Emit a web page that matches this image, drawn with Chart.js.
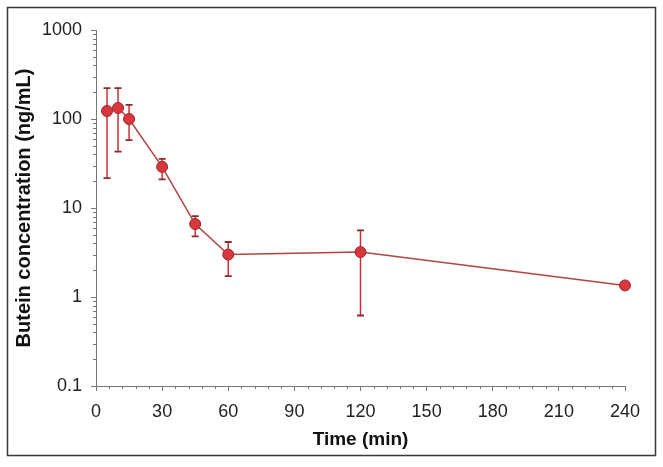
<!DOCTYPE html>
<html lang="en">
<head>
  <meta charset="UTF-8">
  <title>Butein concentration vs time</title>
  <script src="https://cdn.jsdelivr.net/npm/chart.js"></script>
  <style>
    html, body { margin: 0; padding: 0; background: #fff; }
    #wrap { width: 663px; height: 467px; }
  </style>
</head>
<body>
<div id="wrap"><canvas id="chart" width="663" height="467"></canvas></div>

<script>
  // data
  const times = [5, 10, 15, 30, 45, 60, 120, 240];
  const meanConc = [123, 133, 100, 29, 6.6, 3.0, 3.2, 1.35];
  const upperConc = [222, 222, 144, 35.6, 8.1, 4.15, 5.6, null];
  const lowerConc = [21.7, 43, 58, 21, 4.8, 1.72, 0.62, null];
  const yTicks = [0.1, 1, 10, 100, 1000];
  const xMinorStep = 6;

  // outer frame around the whole figure
  const framePlugin = {
    id: 'frame',
    beforeDraw(chart) {
      const ctx = chart.ctx;
      ctx.save();
      ctx.fillStyle = '#fff';
      ctx.fillRect(0, 0, chart.width, chart.height);
      ctx.strokeStyle = '#3a3a3a';
      ctx.lineWidth = 1.5;
      ctx.strokeRect(7.5, 7.5, 648, 448);
      ctx.restore();
    }
  };

  // short minor ticks on both axes
  const minorTicks = {
    id: 'minorTicks',
    afterDraw(chart) {
      const { ctx, chartArea } = chart;
      const x = chart.scales.x, y = chart.scales.y;
      ctx.save();
      ctx.strokeStyle = '#777';
      ctx.lineWidth = 1;
      ctx.beginPath();
      for (let t = 0; t <= 240; t += xMinorStep) {
        if (t % 30 === 0) continue;
        const px = Math.round(x.getPixelForValue(t)) + 0.5;
        ctx.moveTo(px, chartArea.bottom);
        ctx.lineTo(px, chartArea.bottom + 3);
      }
      for (let p = 0.1; p < 1000; p *= 10) {
        for (let m = 2; m <= 9; m++) {
          const py = Math.round(y.getPixelForValue(p * m)) + 0.5;
          ctx.moveTo(chartArea.left, py);
          ctx.lineTo(chartArea.left - 3, py);
        }
      }
      ctx.stroke();
      ctx.restore();
    }
  };

  // vertical error bars with caps
  const errorBars = {
    id: 'errorBars',
    beforeDatasetsDraw(chart) {
      const ctx = chart.ctx;
      const x = chart.scales.x, y = chart.scales.y;
      ctx.save();
      times.forEach((t, i) => {
        if (upperConc[i] == null) return;
        const px = x.getPixelForValue(t);
        const top = y.getPixelForValue(upperConc[i]);
        const bot = y.getPixelForValue(lowerConc[i]);
        ctx.strokeStyle = '#cc3036';
        ctx.lineWidth = 1.5;
        ctx.beginPath();
        ctx.moveTo(px, top);
        ctx.lineTo(px, bot);
        ctx.stroke();
        ctx.strokeStyle = '#8c2a2e';
        ctx.lineWidth = 1.8;
        ctx.beginPath();
        ctx.moveTo(px - 3.5, top);
        ctx.lineTo(px + 3.5, top);
        ctx.moveTo(px - 3.5, bot);
        ctx.lineTo(px + 3.5, bot);
        ctx.stroke();
      });
      ctx.restore();
    }
  };

  const ctx = document.getElementById('chart').getContext('2d');
  new Chart(ctx, {
    type: 'line',
    data: {
      datasets: [{
        data: times.map((t, i) => ({ x: t, y: meanConc[i] })),
        borderColor: '#b0453f',
        borderWidth: 1.5,
        pointRadius: 5.5,
        pointBackgroundColor: '#d9363e',
        pointBorderColor: '#9a2a2c',
        pointBorderWidth: 1,
        tension: 0,
        clip: false
      }]
    },
    options: {
      responsive: false,
      animation: false,
      devicePixelRatio: 1,
      layout: { padding: { left: 0, top: 30, right: 38, bottom: 0 } },
      plugins: {
        legend: { display: false },
        tooltip: { enabled: false }
      },
      scales: {
        x: {
          type: 'linear',
          min: 0,
          max: 240,
          afterFit(scale) { scale.height = 81; },
          grid: { drawOnChartArea: false, tickLength: 5, color: '#777' },
          border: { color: '#777', width: 1 },
          ticks: {
            stepSize: 30,
            padding: 10,
            maxRotation: 0,
            color: '#222',
            font: { family: 'Liberation Sans, Arial, sans-serif', size: 18 }
          },
          title: {
            display: true,
            text: 'Time (min)',
            color: '#111',
            padding: { top: 0, bottom: 16 },
            font: { family: 'Liberation Sans, Arial, sans-serif', size: 19, weight: 'bold' }
          }
        },
        y: {
          type: 'logarithmic',
          min: 0.1,
          max: 1000,
          afterFit(scale) { scale.width = 96; },
          afterBuildTicks(scale) { scale.ticks = yTicks.map(v => ({ value: v })); },
          grid: { drawOnChartArea: false, tickLength: 5, color: '#777' },
          border: { color: '#777', width: 1 },
          ticks: {
            padding: 9,
            color: '#222',
            font: { family: 'Liberation Sans, Arial, sans-serif', size: 18 },
            callback: v => String(v)
          },
          title: {
            display: true,
            text: 'Butein concentration (ng/mL)',
            color: '#111',
            padding: { top: 12, bottom: 0 },
            font: { family: 'Liberation Sans, Arial, sans-serif', size: 20, weight: 'bold' }
          }
        }
      }
    },
    plugins: [framePlugin, minorTicks, errorBars]
  });
</script>
</body>
</html>
